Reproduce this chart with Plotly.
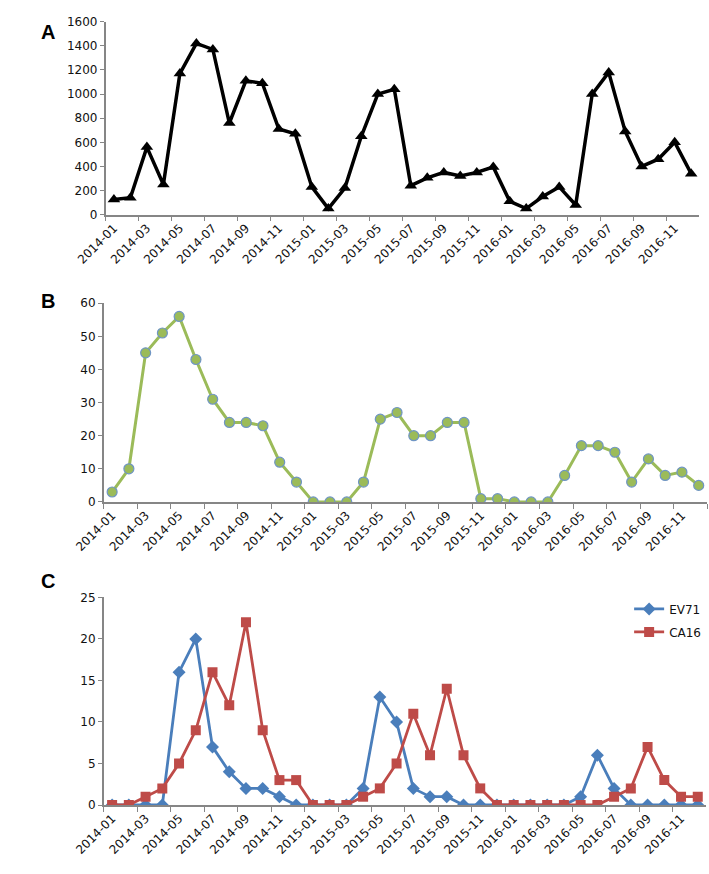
import plotly.graph_objects as go

# months on the category axis
months = ['2014-01', '2014-02', '2014-03', '2014-04', '2014-05', '2014-06',
          '2014-07', '2014-08', '2014-09', '2014-10', '2014-11', '2014-12',
          '2015-01', '2015-02', '2015-03', '2015-04', '2015-05', '2015-06',
          '2015-07', '2015-08', '2015-09', '2015-10', '2015-11', '2015-12',
          '2016-01', '2016-02', '2016-03', '2016-04', '2016-05', '2016-06',
          '2016-07', '2016-08', '2016-09', '2016-10', '2016-11', '2016-12']

# panel A
cases_A = [125, 140, 560, 250, 1170, 1420, 1370, 760, 1110, 1090, 710, 670,
           230, 50, 220, 650, 1000, 1040, 240, 305, 350, 320, 350, 395,
           110, 50, 150, 230, 80, 1000, 1180, 690, 400, 460, 600, 340]

# panel B
cases_B = [3, 10, 45, 51, 56, 43, 31, 24, 24, 23, 12, 6,
           0, 0, 0, 6, 25, 27, 20, 20, 24, 24, 1, 1,
           0, 0, 0, 8, 17, 17, 15, 6, 13, 8, 9, 5]

# panel C
ev71 = [0, 0, 0, 0, 16, 20, 7, 4, 2, 2, 1, 0,
        0, 0, 0, 2, 13, 10, 2, 1, 1, 0, 0, 0,
        0, 0, 0, 0, 1, 6, 2, 0, 0, 0, 0, 0]
ca16 = [0, 0, 1, 2, 5, 9, 16, 12, 22, 9, 3, 3,
        0, 0, 0, 1, 2, 5, 11, 6, 14, 6, 2, 0,
        0, 0, 0, 0, 0, 0, 1, 2, 7, 3, 1, 1]

W, H = 709, 874
AXIS = '#868686'
FONT = 'DejaVu Sans'

fig = go.Figure()

fig.add_trace(go.Scatter(x=months, y=cases_A, mode='lines+markers',
                         line=dict(color='black', width=3.5),
                         marker=dict(symbol='triangle-up', size=11, color='black'),
                         xaxis='x', yaxis='y', showlegend=False))

fig.add_trace(go.Scatter(x=months, y=cases_B, mode='lines+markers',
                         line=dict(color='#9BBB59', width=3),
                         marker=dict(symbol='circle', size=10, color='#9BBB59',
                                     line=dict(color='#6F95C4', width=1.2)),
                         xaxis='x2', yaxis='y2', showlegend=False))

fig.add_trace(go.Scatter(x=months, y=ev71, mode='lines+markers', name='EV71',
                         legendgroup='ev71',
                         line=dict(color='#4A7EBB', width=2.8),
                         marker=dict(symbol='diamond', size=10, color='#4A7EBB'),
                         xaxis='x3', yaxis='y3'))
fig.add_trace(go.Scatter(x=months, y=ca16, mode='lines+markers', name='CA16',
                         legendgroup='ca16',
                         line=dict(color='#BE4B48', width=2.8),
                         marker=dict(symbol='square', size=10, color='#BE4B48'),
                         xaxis='x3', yaxis='y3'))


def xax(x0, x1, anchor):
    return dict(domain=[x0 / W, x1 / W], anchor=anchor, type='category',
                range=[-0.5, 35.5], tickson='boundaries', dtick=2,
                ticks='outside', ticklen=5, tickcolor=AXIS, tickangle=-45,
                showline=True, linecolor=AXIS, linewidth=1.5,
                showgrid=False, zeroline=False,
                tickfont=dict(family=FONT, size=12, color='#111'))


def yax(top, bottom, rng, step, anchor):
    return dict(domain=[1 - bottom / H, 1 - top / H], anchor=anchor,
                range=rng, dtick=step, ticks='outside', ticklen=4,
                tickcolor=AXIS, showline=True, linecolor=AXIS, linewidth=1.5,
                showgrid=False, zeroline=False,
                tickfont=dict(family=FONT, size=12, color='#111'))


fig.update_layout(
    width=W, height=H,
    margin=dict(l=0, r=0, t=0, b=0),
    plot_bgcolor='white', paper_bgcolor='white',
    xaxis=xax(79, 699, 'y'),
    yaxis=yax(15, 211, [0, 1600], 200, 'x'),
    xaxis2=xax(77, 707, 'y2'),
    yaxis2=yax(301, 503, [0, 60], 10, 'x2'),
    xaxis3=xax(77, 706, 'y3'),
    yaxis3=yax(600, 811, [0, 25], 5, 'x3'),
    legend=dict(x=706 / W, y=1 - 597 / H, xanchor='right', yanchor='top',
                font=dict(family=FONT, size=12, color='#111'),
                bgcolor='rgba(0,0,0,0)', tracegroupgap=4),
)

for letter, ypix in [('A', 12), ('B', 299), ('C', 597)]:
    fig.add_annotation(text='<b>%s</b>' % letter, xref='paper', yref='paper',
                       x=9 / W, y=1 - ypix / H, showarrow=False,
                       font=dict(family='Liberation Sans', size=20, color='black'))

# drop the default 8px body margin so the figure sits at the page corner
fig.write_html('out.html', config={'displayModeBar': False},
               post_script="document.body.style.margin='0';"
                           "document.body.style.overflow='hidden';")
